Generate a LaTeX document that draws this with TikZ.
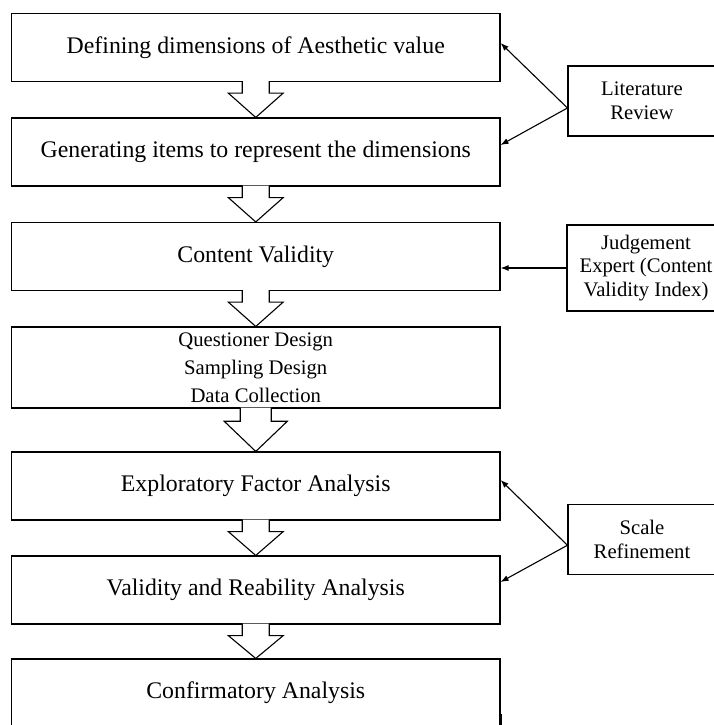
\documentclass[tikz,border=0pt]{standalone}
\usepackage{fontspec}
\setmainfont{Liberation Serif}
\usetikzlibrary{calc, arrows.meta, positioning}

\begin{document}
\begin{tikzpicture}[x=1pt, y=-1pt, >={Latex[length=8pt,width=6pt]},
    box/.style={draw, line width=1.1pt, inner sep=0pt, minimum width=488.5pt,
        minimum height=68pt, font=\fontsize{23.8pt}{28pt}\selectfont},
    sidebox/.style={draw, line width=1.1pt, inner sep=0pt, minimum width=148pt,
        minimum height=70pt, align=center, font=\fontsize{20.7pt}{23.7pt}\selectfont},
    flow/.style={draw, line width=1.1pt, fill=white, line join=miter},
    link/.style={->, line width=1.1pt}]
    \useasboundingbox (0,0) rectangle (714,725);

    % 1. Main steps
    \node[box] (def) at (255.75,47.5) {Defining dimensions of Aesthetic value};
    \node[box] (gen) at (255.75,152) {Generating items to represent the dimensions};
    \node[box] (cont) at (255.75,256.5) {Content Validity};
    \node[box, minimum height=81pt, align=center,
        font=\fontsize{20.7pt}{28pt}\selectfont] (quest) at (255.75,367.5)
        {Questioner Design\\Sampling Design\\Data Collection};
    \node[box] (efa) at (255.75,486) {Exploratory Factor Analysis};
    \node[box] (val) at (255.75,590) {Validity and Reability Analysis};
    \node[box] (conf) at (255.75,693) {Confirmatory Analysis};

    % 2. Side boxes
    \node[sidebox] (lit) at (642,101) {Literature\\Review};
    \node[sidebox, minimum width=158pt, minimum height=86pt] (judge) at (646,268)
        {Judgement\\Expert (Content\\Validity Index)};
    \node[sidebox] (scale) at (642,539.25) {Scale\\Refinement};

    % 3. Hollow block arrows between the steps
    \foreach \a/\b/\w in {def/gen/1, gen/cont/1, cont/quest/1,
                          quest/efa/1.15, efa/val/1, val/conf/1} {
        \draw[flow] ($(\a.south)+(-13.5*\w,-1)$) -- ($(\a.south)+(-13.5*\w,11*\w)$)
            -- ($(\a.south)+(-27.5*\w,11*\w)$) -- (\b.north)
            -- ($(\a.south)+(27.5*\w,11*\w)$) -- ($(\a.south)+(13.5*\w,11*\w)$)
            -- ($(\a.south)+(13.5*\w,-1)$);
    }

    % 4. Arrows from the side boxes
    \draw[link] ([yshift=-7pt]lit.west) -- ([yshift=4.5pt]def.east);
    \draw[link] ([yshift=-7pt]lit.west) -- ([yshift=7pt]gen.east);
    \draw[link] (judge.west) -- (judge.west -| cont.east);
    \draw[link] ([yshift=-6pt]scale.west) -- ([yshift=6pt]efa.east);
    \draw[link] ([yshift=-6pt]scale.west) -- ([yshift=8pt]val.east);

    % 5. Mark at the bottom right
    \draw[line width=2.2pt] ($(conf.south east)+(0,-14)$) -- (conf.south east);
\end{tikzpicture}
\end{document}
